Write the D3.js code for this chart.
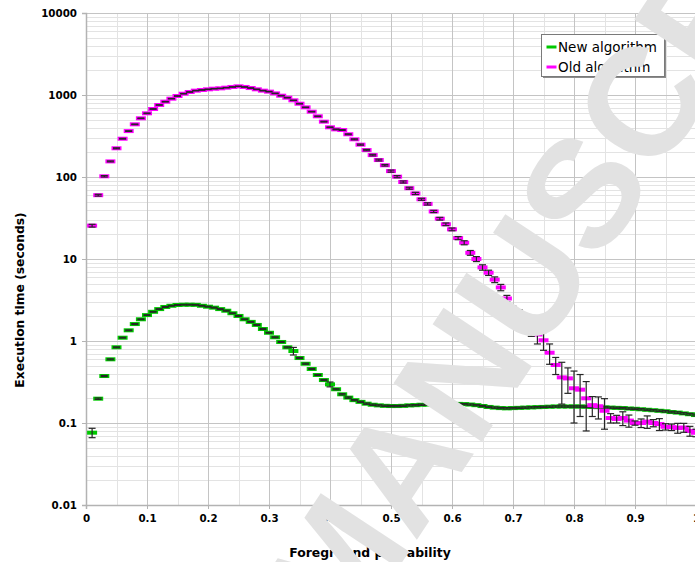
<!DOCTYPE html>
<html>
<head>
<meta charset="utf-8">
<script src="https://cdn.jsdelivr.net/npm/d3@7"></script>
<style>
    body { margin: 0; background: white; overflow: hidden; }
    svg { display: block; font-family: "DejaVu Sans", sans-serif; }
</style>
</head>
<body>
<svg id="plot"></svg>
<script>
"use strict";

// Foreground probability (x) for every measured point
const probabilities = [
    0.01, 0.02, 0.03, 0.04, 0.05, 0.06, 0.07, 0.08, 0.09, 0.10,
    0.11, 0.12, 0.13, 0.14, 0.15, 0.16, 0.17, 0.18, 0.19, 0.20,
    0.21, 0.22, 0.23, 0.24, 0.25, 0.26, 0.27, 0.28, 0.29, 0.30,
    0.31, 0.32, 0.33, 0.34, 0.35, 0.36, 0.37, 0.38, 0.39, 0.40,
    0.41, 0.42, 0.43, 0.44, 0.45, 0.46, 0.47, 0.48, 0.49, 0.50,
    0.51, 0.52, 0.53, 0.54, 0.55, 0.56, 0.57, 0.58, 0.59, 0.60,
    0.61, 0.62, 0.63, 0.64, 0.65, 0.66, 0.67, 0.68, 0.69, 0.70,
    0.71, 0.72, 0.73, 0.74, 0.75, 0.76, 0.77, 0.78, 0.79, 0.80,
    0.81, 0.82, 0.83, 0.84, 0.85, 0.86, 0.87, 0.88, 0.89, 0.90,
    0.91, 0.92, 0.93, 0.94, 0.95, 0.96, 0.97, 0.98, 0.99, 1.00
];

// Execution time (seconds) of the new algorithm
const new_times = [
    0.0762, 0.198, 0.374, 0.598, 0.838, 1.097, 1.35, 1.61, 1.84, 2.07,
    2.27, 2.45, 2.60, 2.69, 2.75, 2.77, 2.77, 2.76, 2.69, 2.62,
    2.55, 2.45, 2.34, 2.18, 2.02, 1.84, 1.71, 1.57, 1.40, 1.26,
    1.11, 0.973, 0.837, 0.755, 0.620, 0.528, 0.456, 0.385, 0.334, 0.296,
    0.258, 0.224, 0.204, 0.190, 0.181, 0.172, 0.167, 0.164, 0.162, 0.161,
    0.161, 0.162, 0.164, 0.165, 0.167, 0.168, 0.169, 0.170, 0.171, 0.171,
    0.171, 0.170, 0.168, 0.165, 0.161, 0.157, 0.154, 0.152, 0.151, 0.152,
    0.153, 0.154, 0.155, 0.156, 0.157, 0.158, 0.159, 0.159, 0.159, 0.159,
    0.159, 0.158, 0.157, 0.156, 0.155, 0.154, 0.153, 0.152, 0.150, 0.149,
    0.147, 0.145, 0.143, 0.141, 0.139, 0.136, 0.134, 0.131, 0.128, 0.125
];

const new_errors = [
    0.010, 0.004, 0.006, 0.008, 0.010, 0.012, 0.015, 0.020, 0.020, 0.020,
    0.025, 0.025, 0.030, 0.030, 0.030, 0.030, 0.030, 0.030, 0.030, 0.030,
    0.030, 0.030, 0.030, 0.025, 0.025, 0.020, 0.020, 0.020, 0.020, 0.015,
    0.015, 0.012, 0.012, 0.080, 0.010, 0.008, 0.006, 0.005, 0.005, 0.020,
    0.004, 0.004, 0.004, 0.003, 0.003, 0.003, 0.003, 0.003, 0.003, 0.003,
    0.003, 0.003, 0.003, 0.003, 0.003, 0.003, 0.003, 0.003, 0.003, 0.003,
    0.003, 0.003, 0.003, 0.003, 0.003, 0.003, 0.003, 0.003, 0.003, 0.003,
    0.003, 0.003, 0.003, 0.003, 0.003, 0.003, 0.003, 0.003, 0.003, 0.003,
    0.003, 0.003, 0.003, 0.003, 0.003, 0.003, 0.003, 0.003, 0.003, 0.003,
    0.003, 0.003, 0.003, 0.003, 0.003, 0.003, 0.003, 0.003, 0.003, 0.003
];

// Execution time (seconds) of the old algorithm
const old_times = [
    25.5, 60, 102, 155, 224, 293, 363, 439, 520, 598,
    675, 755, 828, 902, 972, 1037, 1088, 1130, 1151, 1173,
    1194, 1205, 1228, 1253, 1276, 1253, 1216, 1173, 1130, 1099,
    1047, 981, 927, 861, 783, 707, 626, 550, 473, 404,
    381, 374, 332, 288, 248, 213, 185, 161, 139, 118,
    101, 87, 73, 63, 53.5, 47, 38, 31, 26.5, 23,
    18, 15.8, 11.9, 10, 7.9, 6.8, 5.6, 4.5, 3.3, 2.4,
    2.1, 1.85, 1.47, 1.2, 1.02, 0.72, 0.51, 0.36, 0.35, 0.265,
    0.255, 0.2, 0.165, 0.16, 0.141, 0.115, 0.112, 0.115, 0.107, 0.1,
    0.1, 0.104, 0.1, 0.097, 0.09, 0.089, 0.087, 0.088, 0.08, 0.076
];

const old_errors = [
    1.0, 1.5, 2, 2, 3, 3, 3, 4, 4, 5,
    5, 5, 6, 6, 6, 7, 7, 7, 7, 7,
    7, 7, 7, 8, 8, 8, 8, 8, 8, 8,
    7, 7, 7, 6, 6, 6, 5, 5, 5, 4,
    4, 4, 4, 4, 4, 4, 4, 4, 3, 3.5,
    3, 2.5, 2, 2, 1.5, 1.5, 1.2, 1.2, 1, 0.9,
    0.8, 0.9, 0.8, 0.7, 0.6, 0.5, 0.45, 0.4, 0.3, 0.25,
    0.3, 0.2, 0.33, 0.28, 0.25, 0.2, 0.12, 0.19, 0.12, 0.165,
    0.135, 0.12, 0.045, 0.048, 0.057, 0.015, 0.012, 0.022, 0.018, 0.006,
    0.012, 0.018, 0.01, 0.016, 0.008, 0.008, 0.012, 0.011, 0.011, 0.008
];

const x_tick_values = [0, 0.1, 0.2, 0.3, 0.4, 0.5, 0.6, 0.7, 0.8, 0.9, 1];
const x_tick_labels = ["0", "0.1", "0.2", "0.3", "0.4", "0.5", "0.6", "0.7", "0.8", "0.9", "1"];
const y_tick_values = [0.01, 0.1, 1, 10, 100, 1000, 10000];
const y_tick_labels = ["0.01", "0.1", "1", "10", "100", "1000", "10000"];

const series_names = ["New algorithm", "Old algorithm"];
const series_colors = ["#00c800", "#ff00ff"];

const watermark_text = "MANUSCRIPT";

const width = 695;
const height = 562;
const margins = {top: 13, right: -1, bottom: 57, left: 86};
const plot_width = width - margins.left - margins.right;
const plot_height = height - margins.top - margins.bottom;

const x_scale = d3.scaleLinear().domain([0, 1]).range([0, plot_width]);
const y_scale = d3.scaleLog().domain([0.01, 10000]).range([plot_height, 0]);

const svg = d3.select("#plot")
    .attr("width", width)
    .attr("height", height)
    .style("background-color", "white");

const plot = svg.append("g")
    .attr("transform", "translate(" + margins.left + "," + margins.top + ")");

// Grid: light lines on half steps and on 2..9 of each decade, darker on the main ticks
const x_grid = x_scale.ticks(20);
const y_grid = y_scale.ticks();
const is_decade = function(d) { return Math.abs(Math.log10(d) - Math.round(Math.log10(d))) < 1e-6; };
const is_tenth = function(d) { return Math.abs(d * 10 - Math.round(d * 10)) < 1e-6; };

plot.append("g").selectAll("line")
    .data(y_grid.filter(function(d) { return !is_decade(d); }))
    .join("line")
    .attr("x1", 0).attr("x2", plot_width)
    .attr("y1", function(d) { return Math.round(y_scale(d)) + 0.5; })
    .attr("y2", function(d) { return Math.round(y_scale(d)) + 0.5; })
    .attr("stroke", "#e3e3e3");

plot.append("g").selectAll("line")
    .data(x_grid.filter(function(d) { return !is_tenth(d); }))
    .join("line")
    .attr("x1", function(d) { return Math.round(x_scale(d)) + 0.5; })
    .attr("x2", function(d) { return Math.round(x_scale(d)) + 0.5; })
    .attr("y1", 0).attr("y2", plot_height)
    .attr("stroke", "#e3e3e3");

plot.append("g").selectAll("line")
    .data(y_tick_values)
    .join("line")
    .attr("x1", 0).attr("x2", plot_width)
    .attr("y1", function(d) { return Math.round(y_scale(d)) + 0.5; })
    .attr("y2", function(d) { return Math.round(y_scale(d)) + 0.5; })
    .attr("stroke", "#c4c4c4");

plot.append("g").selectAll("line")
    .data(x_tick_values)
    .join("line")
    .attr("x1", function(d) { return Math.round(x_scale(d)) + 0.5; })
    .attr("x2", function(d) { return Math.round(x_scale(d)) + 0.5; })
    .attr("y1", 0).attr("y2", plot_height)
    .attr("stroke", "#c4c4c4");

// Axes
const x_axis = d3.axisBottom(x_scale)
    .tickValues(x_tick_values)
    .tickFormat(function(d, i) { return x_tick_labels[i]; })
    .tickSize(4)
    .tickPadding(6);
const y_axis = d3.axisLeft(y_scale)
    .tickValues(y_tick_values)
    .tickFormat(function(d, i) { return y_tick_labels[i]; })
    .tickSize(4)
    .tickPadding(5);

const x_axis_g = plot.append("g")
    .attr("transform", "translate(0," + plot_height + ")")
    .call(x_axis);
const y_axis_g = plot.append("g")
    .call(y_axis);

[x_axis_g, y_axis_g].forEach(function(g) {
    g.select(".domain").attr("stroke", "#b3b3b3").attr("stroke-width", 1.5);
    g.selectAll(".tick line").attr("stroke", "#b3b3b3");
    g.selectAll(".tick text")
        .attr("fill", "#000")
        .style("font-family", "'DejaVu Sans', sans-serif")
        .style("font-size", "10.3px")
        .style("font-weight", "bold");
});

// Points: a coloured dash for the mean and black error bars with caps
function draw_series(times, errors, color) {
    const points = probabilities.map(function(p, i) {
        return {"x": p, "y": times[i], "e": errors[i]};
    });

    const group = plot.append("g");

    group.selectAll("rect")
        .data(points)
        .join("rect")
        .attr("x", function(d) { return x_scale(d.x) - 5; })
        .attr("y", function(d) { return y_scale(d.y) - 2; })
        .attr("width", 10)
        .attr("height", 4)
        .attr("fill", color);

    const bars = group.selectAll("g.bar")
        .data(points)
        .join("g")
        .attr("class", "bar")
        .attr("stroke", "#262626")
        .attr("stroke-width", 1.2);

    const top_of = function(d) { return y_scale(d.y + d.e); };
    const bottom_of = function(d) { return y_scale(Math.max(d.y - d.e, 0.0101)); };

    bars.append("line")
        .attr("x1", function(d) { return x_scale(d.x); })
        .attr("x2", function(d) { return x_scale(d.x); })
        .attr("y1", top_of)
        .attr("y2", bottom_of);
    bars.append("line")
        .attr("x1", function(d) { return x_scale(d.x) - 3.5; })
        .attr("x2", function(d) { return x_scale(d.x) + 3.5; })
        .attr("y1", top_of)
        .attr("y2", top_of);
    bars.append("line")
        .attr("x1", function(d) { return x_scale(d.x) - 3.5; })
        .attr("x2", function(d) { return x_scale(d.x) + 3.5; })
        .attr("y1", bottom_of)
        .attr("y2", bottom_of);
}

draw_series(new_times, new_errors, series_colors[0]);
draw_series(old_times, old_errors, series_colors[1]);

// Axis titles
svg.append("text")
    .attr("x", 370)
    .attr("y", 557)
    .attr("text-anchor", "middle")
    .style("font-size", "12.4px")
    .style("font-weight", "bold")
    .text("Foreground probability");

svg.append("text")
    .attr("transform", "translate(24,300) rotate(-90)")
    .attr("text-anchor", "middle")
    .style("font-size", "12.3px")
    .style("font-weight", "bold")
    .text("Execution time (seconds)");

// Legend box with a small shadow
const legend = svg.append("g").attr("transform", "translate(541.5,34.5)");
legend.append("rect")
    .attr("x", 1.5).attr("y", 1.5)
    .attr("width", 123).attr("height", 42)
    .attr("fill", "#8c8c8c");
legend.append("rect")
    .attr("width", 123).attr("height", 42)
    .attr("fill", "white")
    .attr("stroke", "#7a7a7a");

series_names.forEach(function(name, i) {
    const y = 12.5 + i * 20;
    legend.append("line")
        .attr("x1", 5).attr("x2", 15)
        .attr("y1", y).attr("y2", y)
        .attr("stroke", series_colors[i])
        .attr("stroke-width", 3);
    legend.append("text")
        .attr("x", 16.5)
        .attr("y", y + 4.5)
        .style("font-size", "13.5px")
        .attr("fill", "#000")
        .text(name);
});

// Diagonal manuscript watermark lying over the figure
svg.append("text")
    .attr("transform", "translate(344,650) rotate(-56.5)")
    .style("font-family", "'Liberation Sans', sans-serif")
    .style("font-size", "154px")
    .style("font-weight", "bold")
    .attr("fill", "#e2e2e2")
    .text(watermark_text);
</script>
</body>
</html>
